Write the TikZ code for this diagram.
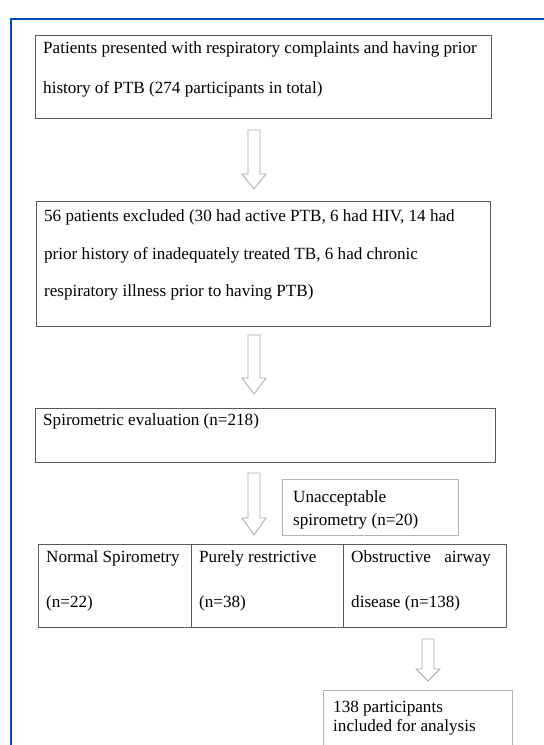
\documentclass[tikz,border=0pt]{standalone}
\usepackage{fontspec}
\setmainfont{Liberation Serif}
\begin{document}
\begin{tikzpicture}[x=1pt,y=-1pt,
  frame/.style={draw=blue!60!black!70!cyan, line width=1.4pt},
  darkbox/.style={draw=black!65, line width=0.9pt},
  lightbox/.style={draw=black!30, line width=0.9pt},
  arr/.style={draw=black!35, line width=0.8pt, fill=white},
  txt/.style={anchor=base west, inner sep=0pt, font=\fontsize{17.1}{20}\selectfont, text=black}]
\useasboundingbox (0,0) rectangle (544,745);
\fill[white] (0,0) rectangle (544,745);
\draw[frame] (11,746) -- (11,19) -- (545,19);
\newcommand{\hollowarrow}[4]{%
  \draw[arr] ({#1-6},#2) -- ({#1+6},#2) -- ({#1+6},#3) -- ({#1+12},#3) -- (#1,#4) -- ({#1-12},#3) -- ({#1-6},#3) -- cycle;}
% box 1
\draw[darkbox] (35,35) rectangle (491,118);
\node[txt] (t1a) at (43,53) {Patients presented with respiratory complaints and having prior};
\node[txt] (t1b) at (43,93) {history of PTB (274 participants in total)};
\hollowarrow{254}{130}{174}{189}
% box 2
\draw[darkbox] (36,201) rectangle (490,326);
\node[txt] (t2a) at (44,221) {56 patients excluded (30 had active PTB, 6 had HIV, 14 had};
\node[txt] (t2b) at (44,259) {prior history of inadequately treated TB, 6 had chronic};
\node[txt] (t2c) at (44,296) {respiratory illness prior to having PTB)};
\hollowarrow{254}{335}{378}{394}
% box 3
\draw[darkbox] (35,408) rectangle (495,462);
\node[txt] (t3) at (43,425) {Spirometric evaluation (n=218)};
\hollowarrow{254}{473}{518}{535}
% unacceptable
\draw[lightbox] (282,479) rectangle (458,535);
\node[txt] (tu1) at (293,502) {Unacceptable};
\node[txt] (tu2) at (293,525) {spirometry (n=20)};
% table
\draw[darkbox] (38,544) rectangle (506,627);
\draw[darkbox] (191,544) -- (191,627);
\draw[darkbox] (343,544) -- (343,627);
\node[txt] (tn1) at (46,562) {Normal Spirometry};
\node[txt] (tn2) at (46,607) {(n=22)};
\node[txt] (tp1) at (199,562) {Purely restrictive};
\node[txt] (tp2) at (199,607) {(n=38)};
\node[txt] (to1) at (351,562) {Obstructive};
\node[txt, anchor=base east] (to1b) at (491,562) {airway};
\node[txt] (to2) at (351,607) {disease (n=138)};
\hollowarrow{428}{639}{669}{681}
% final box
\draw[lightbox] (323,690) rectangle (512,760);
\node[txt] (tf1) at (333,712) {138 participants};
\node[txt] (tf2) at (333,731) {included for analysis};
\end{tikzpicture}
\end{document}
